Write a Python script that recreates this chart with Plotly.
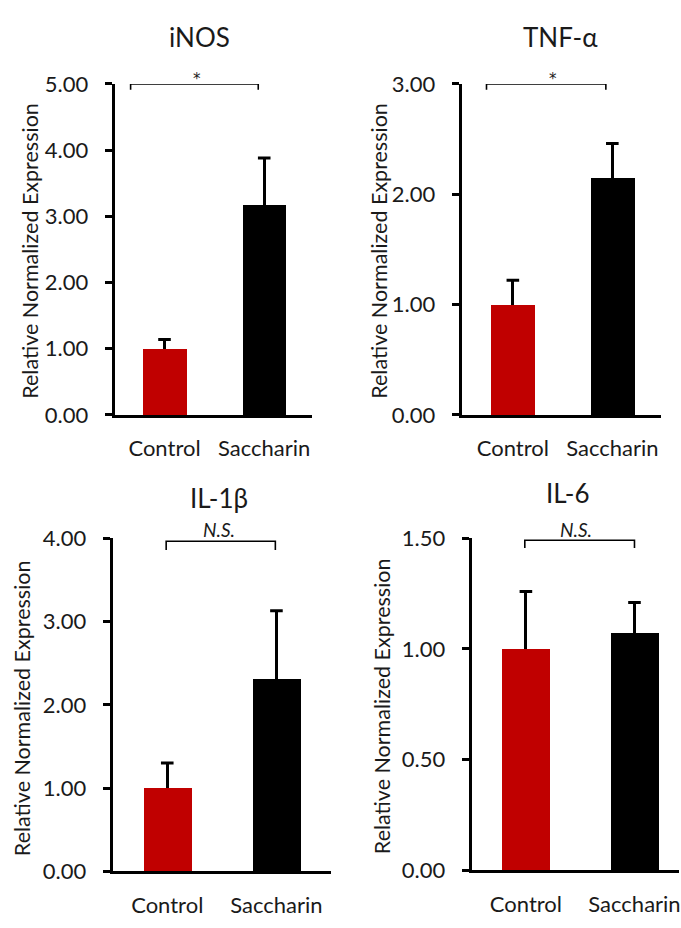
import plotly.graph_objects as go

W, H = 681, 928

categories = ["Control", "Saccharin"]
titles = ["iNOS", "TNF-α", "IL-1β", "IL-6"]
inos_mean = [1.00, 3.17]
inos_err = [0.14, 0.71]
tnf_mean = [1.00, 2.15]
tnf_err = [0.22, 0.31]
il1b_mean = [1.00, 2.31]
il1b_err = [0.30, 0.82]
il6_mean = [1.00, 1.07]
il6_err = [0.26, 0.14]
sig_labels = ["*", "*", "N.S.", "N.S."]
y_max = [5.0, 3.0, 4.0, 1.5]
y_dtick = [1.0, 1.0, 1.0, 0.5]

means = [inos_mean, tnf_mean, il1b_mean, il6_mean]
errs = [inos_err, tnf_err, il1b_err, il6_err]
colors = ["#C00000", "#000000"]
FONT = "Lato"
TXT = "#1a1a1a"

# panel pixel geometry: (x_left, x_right, y_top, y_bottom)
geom = [(115, 313, 72, 413), (463, 663, 72, 413), (113, 332, 540, 883), (473, 681, 540, 882)]
xranges = [[-0.5, 1.48], [-0.515, 1.49], [-0.5, 1.5], [-0.5, 1.41]]

fig = go.Figure()
layout = dict(width=W, height=H, margin=dict(l=0, r=0, t=0, b=0),
              paper_bgcolor="white", plot_bgcolor="white", showlegend=False,
              bargap=0, font=dict(family=FONT, color=TXT))

for i in range(4):
    xl, xr, yt, yb = geom[i]
    sfx = "" if i == 0 else str(i + 1)
    fig.add_trace(go.Bar(
        x=categories, y=means[i], width=0.44,
        marker=dict(color=colors, line=dict(width=0)),
        error_y=dict(type="data", symmetric=False, array=errs[i], arrayminus=[0, 0],
                     color="black", thickness=3, width=0),
        xaxis="x" + sfx, yaxis="y" + sfx, hoverinfo="skip"))
    # error-bar caps (top only)
    tops = [m + e for m, e in zip(means[i], errs[i])]
    fig.add_trace(go.Scatter(
        x=categories, y=tops, mode="markers",
        marker=dict(symbol="line-ew", size=9, color="black",
                    line=dict(color="black", width=3)),
        xaxis="x" + sfx, yaxis="y" + sfx, hoverinfo="skip"))
    layout["xaxis" + sfx] = dict(
        domain=[xl / W, xr / W], anchor="y" + sfx, range=xranges[i],
        showline=True, linecolor="black", linewidth=3, ticks="", showgrid=False,
        tickfont=dict(family=FONT, size=22, color=TXT), ticklabelstandoff=12,
        zeroline=False, fixedrange=True)
    layout["yaxis" + sfx] = dict(
        domain=[1 - yb / H, 1 - yt / H], anchor="x" + sfx, range=[0, y_max[i]],
        dtick=y_dtick[i], tick0=0, tickformat=".2f",
        showline=True, linecolor="black", linewidth=3, ticks="outside",
        ticklen=7, tickwidth=3, tickcolor="black", showgrid=False, zeroline=False,
        tickfont=dict(family=FONT, size=22, color=TXT), ticklabelstandoff=12,
        fixedrange=True)

# significance brackets (data coords)
brackets = [(-0.34, 0.94, 5.0, 4.91), (-0.265, 0.935, 3.0, 2.947),
            (-0.01, 0.99, 3.965, 3.86), (-0.01, 1.0, 1.491, 1.456)]
shapes = []
for i, (x0, x1, yt_, yb_) in enumerate(brackets):
    sfx = "" if i == 0 else str(i + 1)
    shapes.append(dict(type="path", xref="x" + sfx, yref="y" + sfx,
                       path=f"M {x0},{yb_} L {x0},{yt_} L {x1},{yt_} L {x1},{yb_}",
                       line=dict(color="black", width=1.6)))
layout["shapes"] = shapes

ann = []
title_pos = [(200, 24), (562, 24), (220, 498), (570, 493)]
for i, (x, y) in enumerate(title_pos):
    ann.append(dict(text=titles[i], x=x / W, y=1 - y / H, xref="paper", yref="paper",
                    xanchor="center", yanchor="middle", showarrow=False,
                    font=dict(family=FONT, size=26, color=TXT)))
ytitle_pos = [(30, 244), (380, 244), (22, 715), (383, 713)]
for (x, y) in ytitle_pos:
    ann.append(dict(text="Relative Normalized Expression", x=x / W, y=1 - y / H,
                    xref="paper", yref="paper", xanchor="center", yanchor="middle",
                    textangle=-90, showarrow=False,
                    font=dict(family=FONT, size=21.5, color=TXT)))
sig_pos = [(198, 67), (555, 67), (220, 531), (578, 531)]
for i, (x, y) in enumerate(sig_pos):
    lab = sig_labels[i]
    if lab == "*":
        ann.append(dict(text=lab, x=x / W, y=1 - y / H, xref="paper", yref="paper",
                        xanchor="center", yanchor="middle", showarrow=False,
                        font=dict(family="DejaVu Sans", size=15, color=TXT)))
    else:
        ann.append(dict(text=f"<i>{lab}</i>", x=x / W, y=1 - y / H, xref="paper",
                        yref="paper", xanchor="center", yanchor="middle", showarrow=False,
                        font=dict(family=FONT, size=19, color=TXT)))
layout["annotations"] = ann

fig.update_layout(**layout)
fig.write_html("out.html")
